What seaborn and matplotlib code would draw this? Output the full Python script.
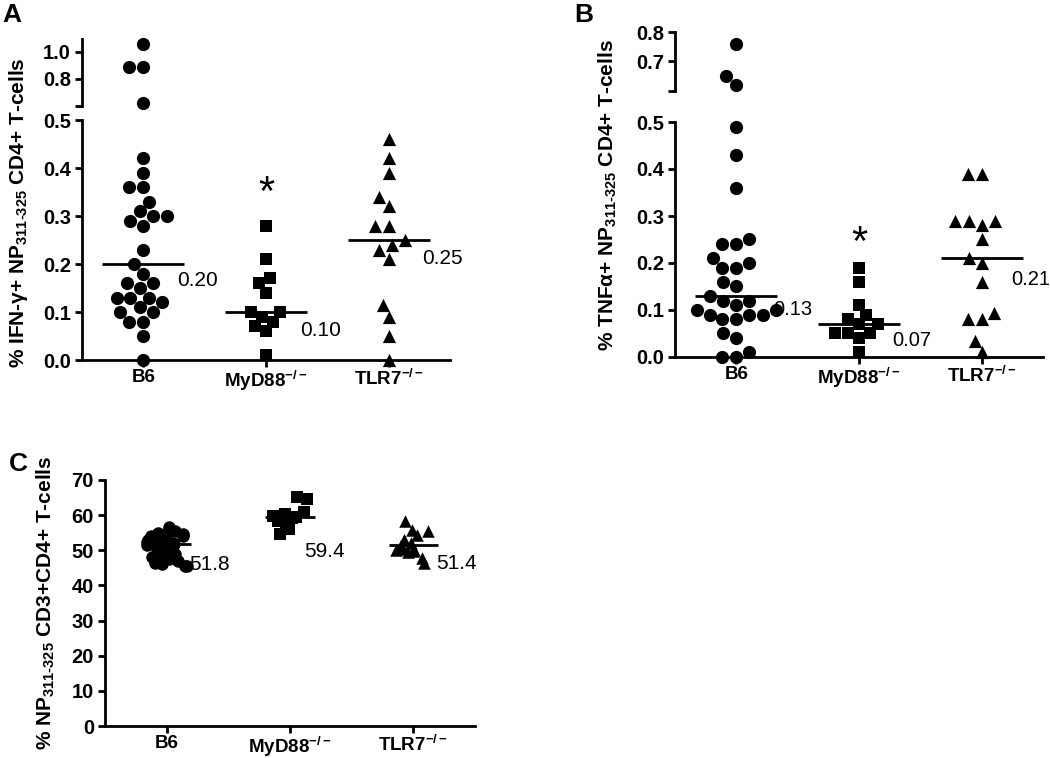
import numpy as np
import pandas as pd
import matplotlib
matplotlib.use("Agg")
import matplotlib.pyplot as plt
import seaborn as sns

# ---------------- data ----------------
groups = ["B6", "MyD88", "TLR7"]
group_labels = ["B6", r"MyD88$^{-/-}$", r"TLR7$^{-/-}$"]

ifng_b6 = [1.06, 0.89, 0.89, 0.62, 0.42, 0.39, 0.36, 0.36, 0.33, 0.30, 0.30, 0.31,
           0.29, 0.28, 0.23, 0.20, 0.18, 0.16, 0.15, 0.16, 0.13, 0.13, 0.13, 0.11,
           0.12, 0.10, 0.10, 0.08, 0.08, 0.05, 0.00]
ifng_myd88 = [0.28, 0.21, 0.16, 0.17, 0.14, 0.09, 0.10, 0.10, 0.07, 0.06, 0.08, 0.01]
ifng_tlr7 = [0.46, 0.42, 0.39, 0.34, 0.32, 0.28, 0.28, 0.25, 0.23, 0.24, 0.21,
             0.115, 0.09, 0.05, 0.00]

tnfa_b6 = [0.76, 0.65, 0.62, 0.49, 0.43, 0.36, 0.25, 0.24, 0.24, 0.21, 0.20, 0.19,
           0.19, 0.16, 0.15, 0.13, 0.12, 0.12, 0.10, 0.11, 0.10, 0.09, 0.09, 0.09,
           0.08, 0.08, 0.05, 0.04, 0.01, 0.00, 0.00]
tnfa_myd88 = [0.19, 0.16, 0.11, 0.09, 0.08, 0.07, 0.07, 0.05, 0.05, 0.04, 0.05, 0.01]
tnfa_tlr7 = [0.39, 0.39, 0.29, 0.29, 0.29, 0.28, 0.25, 0.21, 0.20, 0.16, 0.094,
             0.08, 0.08, 0.035, 0.01]

np_b6 = [56.5, 55.5, 55.0, 55.0, 54.5, 54.0, 54.0, 53.5, 53.0, 53.0, 52.5, 52.5,
         52.0, 52.0, 51.8, 51.8, 51.5, 51.0, 50.5, 50.0, 49.5, 49.0, 48.5, 48.0,
         47.5, 47.0, 47.0, 46.5, 46.0, 45.5, 45.5]
np_myd88 = [65.2, 64.5, 60.8, 60.2, 59.8, 59.5, 59.3, 58.8, 58.2, 57.5, 56.0, 54.5]
np_tlr7 = [58.3, 55.8, 55.6, 54.4, 53.0, 53.0, 52.0, 51.4, 50.5, 50.0, 50.0, 49.8,
           49.5, 47.8, 46.4]

markers = ["o", "s", "^"]
marker_sizes = [9.5, 8.5, 9.5]

# ---------------- style ----------------
sns.set_style("ticks")
plt.rcParams["font.family"] = ["Liberation Sans", "DejaVu Sans"]
plt.rcParams["mathtext.fontset"] = "custom"
plt.rcParams["mathtext.rm"] = "Liberation Sans:bold"
plt.rcParams["mathtext.default"] = "rm"
plt.rcParams["axes.linewidth"] = 2.0
plt.rcParams["xtick.major.width"] = 2.0
plt.rcParams["ytick.major.width"] = 2.0
plt.rcParams["xtick.major.size"] = 5
plt.rcParams["ytick.major.size"] = 5
plt.rcParams["axes.edgecolor"] = "black"
plt.rcParams["xtick.color"] = "black"
plt.rcParams["ytick.color"] = "black"
plt.rcParams["text.color"] = "black"

TICK_FS = 14.5

W, H = 1050, 758
fig = plt.figure(figsize=(W / 100, H / 100), dpi=100)


def px_axes(left, right, top, bottom):
    return fig.add_axes([left / W, 1 - bottom / H, (right - left) / W, (bottom - top) / H])


def long_df(series):
    rows = []
    for g, vals in zip(groups, series):
        for v in vals:
            rows.append((g, v))
    return pd.DataFrame(rows, columns=["group", "value"])


def swarm(ax, series, lo, hi, sizes=marker_sizes, strip=False):
    for g, vals, m, s in zip(groups, series, markers, sizes):
        sub = [v for v in vals if lo <= v <= hi]
        if not sub:
            continue
        d = pd.DataFrame({"group": g, "value": sub})
        if strip:
            sns.stripplot(data=d, x="group", y="value", order=groups, marker=m,
                          color="black", size=s, jitter=0.17, ax=ax, clip_on=False,
                          linewidth=0)
        else:
            sns.swarmplot(data=d, x="group", y="value", order=groups, marker=m,
                          color="black", size=s, ax=ax, clip_on=False, linewidth=0)


def medians(ax, series, width, fmt, offsets, fs=15):
    df = long_df(series)
    sns.boxplot(data=df, x="group", y="value", order=groups, width=width,
                showbox=False, showcaps=False, showfliers=False,
                whiskerprops={"linewidth": 0},
                medianprops={"color": "black", "linewidth": 2.0}, ax=ax)
    for i, vals in enumerate(series):
        med = np.median(vals)
        dx, dy = offsets[i]
        ax.annotate(fmt.format(med), xy=(i + width / 2 - 0.06, med),
                    xytext=(dx, dy), textcoords="offset points",
                    ha="left", va="center", fontsize=fs, color="black",
                    annotation_clip=False)


def finish_lower(ax):
    ax.set_xlim(-0.5, 2.5)
    ax.set_xticks(range(3))
    ax.set_xticklabels(group_labels)
    ax.set_xlabel("")
    ax.set_ylabel("")
    sns.despine(ax=ax)
    ax.tick_params(axis="y", labelsize=TICK_FS, pad=3)
    ax.tick_params(axis="x", labelsize=13.5, pad=1.5)
    for lab in ax.get_xticklabels() + ax.get_yticklabels():
        lab.set_fontweight("bold")


def finish_upper(ax, ylim, ticks, labels):
    ax.set_xlim(-0.5, 2.5)
    ax.set_ylim(*ylim)
    ax.set_yticks(ticks)
    ax.set_yticklabels(labels)
    ax.set_xticks([])
    ax.set_xlabel("")
    ax.set_ylabel("")
    sns.despine(ax=ax, bottom=True)
    ax.tick_params(axis="y", labelsize=TICK_FS, pad=3)
    for lab in ax.get_yticklabels():
        lab.set_fontweight("bold")
    ax.patch.set_alpha(0)


# ---------------- panel A ----------------
ifng = [ifng_b6, ifng_myd88, ifng_tlr7]
axA = px_axes(82, 450, 120, 360)
axA_up = px_axes(82, 450, 39, 106)
swarm(axA, ifng, 0, 0.5)
medians(axA, ifng, 0.67, "{:.2f}", [(0, -12), (0, -13), (0, -13)])
axA.set_ylim(0, 0.5)
axA.set_yticks(np.arange(0, 0.51, 0.1))
axA.set_yticklabels([f"{t:.1f}" for t in np.arange(0, 0.51, 0.1)])
finish_lower(axA)
axA.text(1, 0.345, "*", ha="center", va="center", fontsize=30, color="black")
swarm(axA_up, ifng, 0.5, 2)
finish_upper(axA_up, (0.6, 1.096), [0.6, 0.8, 1.0], ["", "0.8", "1.0"])

# ---------------- panel B ----------------
tnfa = [tnfa_b6, tnfa_myd88, tnfa_tlr7]
axB = px_axes(675, 1043, 122, 357)
axB_up = px_axes(675, 1043, 32, 91)
swarm(axB, tnfa, 0, 0.5)
medians(axB, tnfa, 0.67, "{:.2f}", [(2, -10), (0, -12), (-3, -15)], fs=14.5)
axB.set_ylim(0, 0.5)
axB.set_yticks(np.arange(0, 0.51, 0.1))
axB.set_yticklabels([f"{t:.1f}" for t in np.arange(0, 0.51, 0.1)])
finish_lower(axB)
axB.text(1, 0.24, "*", ha="center", va="center", fontsize=30, color="black")
swarm(axB_up, tnfa, 0.5, 2)
finish_upper(axB_up, (0.6, 0.8), [0.6, 0.7, 0.8], ["", "0.7", "0.8"])

# ---------------- panel C ----------------
npc = [np_b6, np_myd88, np_tlr7]
axC = px_axes(105, 475, 480, 726)
np.random.seed(3)
swarm(axC, npc, 0, 100, sizes=[9.0, 8.0, 9.0], strip=True)
medians(axC, npc, 0.40, "{:.1f}", [(4, -15), (-2, -25), (4, -13)])
axC.set_ylim(0, 70)
axC.set_yticks(range(0, 71, 10))
finish_lower(axC)

# ---------------- labels ----------------
YL_FS = 15
fig.text(19 / W, 1 - 213 / H, r"% IFN-γ+ NP$_{311\text{-}325}$ CD4+ T-cells",
         rotation=90, ha="center", va="center", fontsize=YL_FS, fontweight="bold")
fig.text(608 / W, 1 - 195 / H, r"% TNFα+ NP$_{311\text{-}325}$ CD4+ T-cells",
         rotation=90, ha="center", va="center", fontsize=YL_FS, fontweight="bold")
fig.text(46 / W, 1 - 603 / H, r"% NP$_{311\text{-}325}$ CD3+CD4+ T-cells",
         rotation=90, ha="center", va="center", fontsize=YL_FS, fontweight="bold")

fig.text(2 / W, 1 - 15 / H, "A", ha="left", va="center", fontsize=19, fontweight="bold")
fig.text(574 / W, 1 - 15 / H, "B", ha="left", va="center", fontsize=19, fontweight="bold")
fig.text(9 / W, 1 - 464 / H, "C", ha="left", va="center", fontsize=19, fontweight="bold")

fig.savefig("out.png", dpi=100)
